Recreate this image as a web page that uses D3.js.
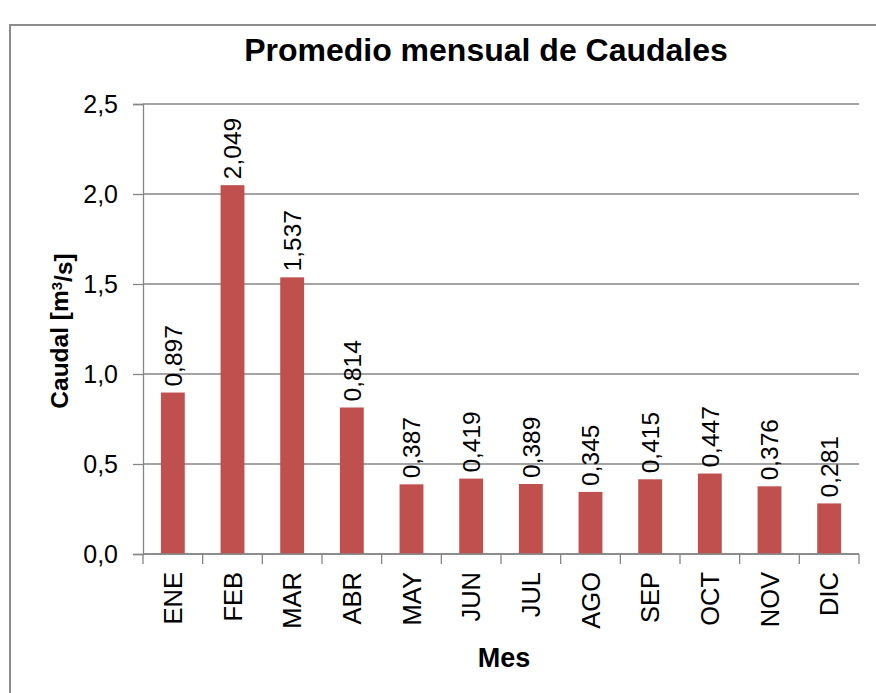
<!doctype html>
<html>
<head>
    <meta charset="UTF-8">
    <title>Promedio mensual de Caudales</title>
    <style type="text/css">
        body {
            margin: 0;
            background: #ffffff;
        }

        #chart {
            font-family: "Liberation Sans", Arial, sans-serif;
        }

        .grid line {
            stroke: #868686;
            stroke-width: 1.3;
        }

        .bar {
            fill: #c0504d;
        }
    </style>
</head>
<body>
    <svg id="chart" width="876" height="693"></svg>

    <script src="https://cdnjs.cloudflare.com/ajax/libs/d3/7.8.5/d3.min.js"></script>
    <script type="text/javascript">
        // datos del gráfico
        var meses = ["ENE", "FEB", "MAR", "ABR", "MAY", "JUN", "JUL", "AGO", "SEP", "OCT", "NOV", "DIC"];
        var caudales = [0.897, 2.049, 1.537, 0.814, 0.387, 0.419, 0.389, 0.345, 0.415, 0.447, 0.376, 0.281];
        var yTicks = [0, 0.5, 1.0, 1.5, 2.0, 2.5];

        var titulo = "Promedio mensual de Caudales";
        var tituloX = "Mes";

        var svg = d3.select("#chart"),
            width = +svg.attr("width"),
            height = +svg.attr("height");

        var margin = {top: 104, right: 17, bottom: 139, left: 143};
        var gris = "#868686";

        // formato con coma decimal
        var es = d3.formatLocale({decimal: ",", thousands: ".", grouping: [3], currency: ["", "$"]});
        var fmt1 = es.format(".1f"),
            fmt3 = es.format(".3f");

        var x = d3.scaleBand()
            .domain(meses)
            .range([margin.left, width - margin.right])
            .paddingInner(0.6)
            .paddingOuter(0.3);

        var y = d3.scaleLinear()
            .domain([0, 2.5])
            .range([height - margin.bottom, margin.top]);

        // borde del área del gráfico (recortado a la derecha y abajo)
        svg.append("path")
            .attr("d", "M10," + height + " L10,25 L" + width + ",25")
            .attr("fill", "none")
            .attr("stroke", "#8c8c8c")
            .attr("stroke-width", 2);

        // título
        svg.append("text")
            .attr("x", (margin.left + width - margin.right) / 2 - 15)
            .attr("y", 61)
            .attr("text-anchor", "middle")
            .style("font-size", "32px")
            .style("font-weight", "bold")
            .text(titulo);

        // líneas de la grilla
        svg.append("g")
            .attr("class", "grid")
            .selectAll("line")
            .data(yTicks)
            .enter()
            .append("line")
            .attr("x1", margin.left)
            .attr("x2", width - margin.right)
            .attr("y1", function(d) { return y(d); })
            .attr("y2", function(d) { return y(d); });

        // eje Y
        var yAxis = svg.append("g")
            .attr("transform", "translate(" + margin.left + ",0)")
            .call(d3.axisLeft(y).tickValues(yTicks).tickFormat(fmt1).tickSize(10).tickPadding(15));
        yAxis.select(".domain").attr("stroke", gris).attr("stroke-width", 1.3);
        yAxis.selectAll(".tick line").attr("stroke", gris).attr("stroke-width", 1.3);
        yAxis.selectAll(".tick text")
            .style("font-size", "25px")
            .style("font-family", "'Liberation Sans', Arial, sans-serif")
            .attr("fill", "#000");

        // barras
        svg.selectAll(".bar")
            .data(caudales)
            .enter()
            .append("rect")
            .attr("class", "bar")
            .attr("x", function(d, i) { return x(meses[i]); })
            .attr("width", x.bandwidth())
            .attr("y", function(d) { return y(d); })
            .attr("height", function(d) { return y(0) - y(d); });

        // etiquetas de datos
        svg.selectAll(".etiqueta")
            .data(caudales)
            .enter()
            .append("text")
            .attr("class", "etiqueta")
            .attr("transform", function(d, i) {
                return "translate(" + (x(meses[i]) + x.bandwidth() / 2) + "," + (y(d) - 6) + ") rotate(-90)";
            })
            .attr("dy", "0.36em")
            .style("font-size", "24.5px")
            .text(function(d) { return fmt3(d); });

        // eje X
        var x0 = y(0);
        var limites = d3.range(meses.length + 1).map(function(i) { return margin.left + i * x.step(); });

        svg.append("line")
            .attr("x1", margin.left)
            .attr("x2", width - margin.right)
            .attr("y1", x0)
            .attr("y2", x0)
            .attr("stroke", gris)
            .attr("stroke-width", 1.3);

        svg.selectAll(".xtick")
            .data(limites)
            .enter()
            .append("line")
            .attr("class", "xtick")
            .attr("x1", function(d) { return d; })
            .attr("x2", function(d) { return d; })
            .attr("y1", x0)
            .attr("y2", x0 + 10)
            .attr("stroke", gris)
            .attr("stroke-width", 1.3);

        svg.selectAll(".xlabel")
            .data(meses)
            .enter()
            .append("text")
            .attr("class", "xlabel")
            .attr("transform", function(d) {
                return "translate(" + (x(d) + x.bandwidth() / 2) + "," + (x0 + 18) + ") rotate(-90)";
            })
            .attr("dy", "0.36em")
            .attr("text-anchor", "end")
            .style("font-size", "25.5px")
            .text(function(d) { return d; });

        // títulos de los ejes
        svg.append("text")
            .attr("x", (margin.left + width - margin.right) / 2 + 3)
            .attr("y", 667)
            .attr("text-anchor", "middle")
            .style("font-size", "27px")
            .style("font-weight", "bold")
            .text(tituloX);

        var tituloY = svg.append("text")
            .attr("transform", "translate(68," + (margin.top + (height - margin.bottom - margin.top) / 2 + 2) + ") rotate(-90)")
            .attr("text-anchor", "middle")
            .style("font-size", "24.5px")
            .style("font-weight", "bold");
        tituloY.append("tspan").text("Caudal [m");
        tituloY.append("tspan").attr("dy", "-0.4em").style("font-size", "15px").text("3");
        tituloY.append("tspan").attr("dy", "0.4em").text("/s]");
    </script>
</body>
</html>
